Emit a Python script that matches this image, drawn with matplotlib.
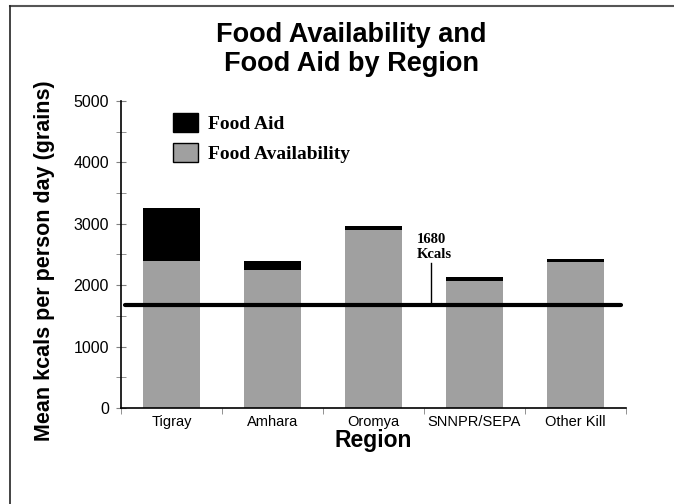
import numpy as np
import matplotlib
matplotlib.use("Agg")
import matplotlib.pyplot as plt
from matplotlib.patches import Patch
from matplotlib.lines import Line2D

# data
regions = ["Tigray", "Amhara", "Oromya", "SNNPR/SEPA", "Other Kill"]
food_availability = [2400, 2250, 2900, 2075, 2370]
food_aid = [850, 145, 65, 55, 50]
threshold = 1680

plt.rcParams['font.family'] = ['Liberation Sans', 'DejaVu Sans']

fig = plt.figure(figsize=(6.74, 5.04), dpi=100)
ax = fig.add_axes([0.1795, 0.1905, 0.7493, 0.6091])

x = np.arange(len(regions))
grey = '#a0a0a0'
ax.bar(x, food_availability, width=0.56, color=grey, zorder=2)
ax.bar(x, food_aid, width=0.56, bottom=food_availability, color='black', zorder=2)

# 1680 kcal line
ax.plot([-0.46, 4.45], [threshold, threshold], color='black', lw=3, zorder=3,
        solid_capstyle='round')
ax.plot([2.57, 2.57], [threshold, 2360], color='black', lw=1, zorder=3)
ax.text(2.43, 2400, "1680\nKcals", family='Liberation Serif', fontweight='bold',
        fontsize=10.5, ha='left', va='bottom', linespacing=1.15)

ax.set_xlim(-0.5, 4.5)
ax.set_ylim(0, 5000)
ax.set_yticks(np.arange(0, 5001, 1000))
ax.set_yticks(np.arange(500, 5000, 1000), minor=True)
ax.set_xticks(x)
ax.set_xticklabels(regions, fontsize=10.5)
ax.set_xticks(np.arange(-0.5, 5, 1), minor=True)
ax.tick_params(axis='x', which='major', length=0, pad=5)
ax.tick_params(axis='x', which='minor', length=4, color='#808080', direction='out')
ax.tick_params(axis='y', which='both', length=7.5, color='#808080', direction='inout',
               labelsize=11.5, pad=5)

for s in ['top', 'right']:
    ax.spines[s].set_visible(False)
ax.spines['left'].set_linewidth(1.2)
ax.spines['bottom'].set_linewidth(1.2)

ax.set_xlabel("Region", fontsize=16.5, fontweight='bold', labelpad=0)
ax.set_ylabel("Mean kcals per person day (grains)", fontsize=15.5, fontweight='bold',
              labelpad=2)
ax.yaxis.set_label_coords(-0.13, 0.48)

fig.suptitle("Food Availability and\nFood Aid by Region", x=0.5215, y=0.956,
             fontsize=19.5, fontweight='bold', linespacing=1.14)

handles = [Patch(facecolor='black', edgecolor='black'),
           Patch(facecolor=grey, edgecolor='black')]
ax.legend(handles, ["Food Aid", "Food Availability"], loc='upper left',
          bbox_to_anchor=(0.103, 0.962), frameon=False, borderpad=0,
          borderaxespad=0, handlelength=1.29, handleheight=1.13,
          handletextpad=0.52, labelspacing=0.5,
          prop={'family': 'Liberation Serif', 'weight': 'bold', 'size': 14})

# slide frame (top and left edges)
fig.add_artist(Line2D([0.0148, 1.0], [0.988, 0.988], color='#555555', lw=1.5))
fig.add_artist(Line2D([0.0148, 0.0148], [0.0, 0.988], color='#222222', lw=1.2))

fig.savefig("out.png", dpi=100)
